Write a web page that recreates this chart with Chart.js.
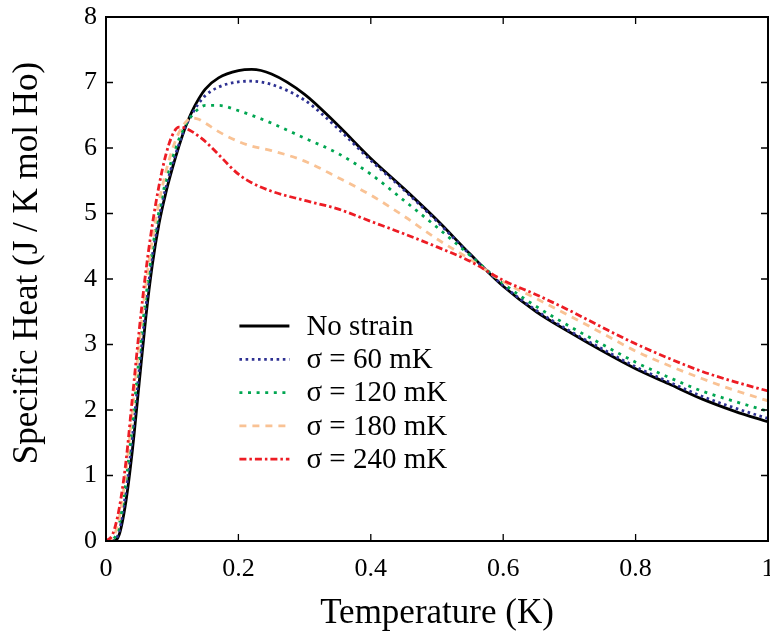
<!DOCTYPE html>
<html>
<head>
<meta charset="utf-8">
<script src="https://cdn.jsdelivr.net/npm/chart.js@4.4.1/dist/chart.umd.min.js"></script>
<style>
  html, body { margin: 0; padding: 0; background: #fff; overflow: hidden; }
  #wrap { width: 770px; height: 639px; }
</style>
</head>
<body>
<div id="wrap"><canvas id="heatChart"></canvas></div>
<script>
// temperature samples (K)
const temps = [0, 0.01, 0.02, 0.03, 0.04, 0.05, 0.06, 0.07, 0.08, 0.09, 0.1, 0.11, 0.12, 0.13, 0.14, 0.15, 0.17, 0.2, 0.22, 0.25, 0.3, 0.35, 0.4, 0.45, 0.5, 0.55, 0.6, 0.65, 0.7, 0.75, 0.8, 0.85, 0.9, 0.95, 1.0];

// specific heat (J / K mol Ho)
const noStrain = [0, 0, 0.1, 0.6, 1.4, 2.4, 3.4, 4.22, 4.84, 5.3, 5.68, 6.02, 6.32, 6.56, 6.75, 6.9, 7.07, 7.18, 7.2, 7.13, 6.82, 6.35, 5.84, 5.38, 4.9, 4.38, 3.89, 3.5, 3.19, 2.9, 2.63, 2.4, 2.17, 1.98, 1.82];
const sigma60 = [0, 0, 0.15, 0.75, 1.6, 2.6, 3.55, 4.35, 4.93, 5.38, 5.74, 6.05, 6.32, 6.52, 6.68, 6.8, 6.93, 7.01, 7.02, 6.97, 6.73, 6.3, 5.81, 5.36, 4.88, 4.37, 3.9, 3.52, 3.21, 2.93, 2.66, 2.43, 2.21, 2.03, 1.87];
const sigma120 = [0, 0.02, 0.25, 0.9, 1.8, 2.8, 3.7, 4.45, 5.03, 5.48, 5.84, 6.13, 6.35, 6.5, 6.6, 6.65, 6.65, 6.57, 6.5, 6.38, 6.15, 5.92, 5.6, 5.2, 4.79, 4.36, 3.93, 3.58, 3.28, 3.0, 2.73, 2.5, 2.29, 2.13, 1.98];
const sigma180 = [0, 0.05, 0.35, 1.05, 2.0, 3.0, 3.9, 4.6, 5.17, 5.62, 5.97, 6.23, 6.39, 6.46, 6.44, 6.38, 6.25, 6.1, 6.03, 5.96, 5.8, 5.55, 5.28, 4.96, 4.61, 4.3, 3.96, 3.7, 3.44, 3.17, 2.9, 2.68, 2.48, 2.3, 2.14];
const sigma240 = [0, 0.1, 0.5, 1.2, 2.2, 3.2, 4.1, 4.83, 5.42, 5.88, 6.19, 6.32, 6.3, 6.25, 6.18, 6.1, 5.9, 5.6, 5.47, 5.34, 5.2, 5.07, 4.88, 4.69, 4.49, 4.27, 3.98, 3.76, 3.52, 3.26, 3.01, 2.79, 2.59, 2.43, 2.29];

const seriesLabels = ['No strain', 'σ = 60 mK', 'σ = 120 mK', 'σ = 180 mK', 'σ = 240 mK'];
const xTicks = [0, 0.2, 0.4, 0.6, 0.8, 1];
const yTicks = [0, 1, 2, 3, 4, 5, 6, 7, 8];
const yTitle = 'Specific Heat (J / K mol Ho)';

const serif = "'Liberation Serif', 'Times New Roman', serif";

function pts(vals) {
  return temps.map((t, i) => ({ x: t, y: vals[i] }));
}

const styles = [
  { color: '#000000', dash: [], width: 2.8 },
  { color: '#2e3192', dash: [2.6, 3.6], width: 2.8 },
  { color: '#00a651', dash: [3, 5.6], width: 2.8 },
  { color: '#f9c294', dash: [7, 6], width: 2.8 },
  { color: '#ed1c24', dash: [7, 3, 2.5, 3], width: 2.8 }
];

const allSeries = [noStrain, sigma60, sigma120, sigma180, sigma240];

const datasets = allSeries.map((vals, i) => ({
  label: seriesLabels[i],
  data: pts(vals),
  borderColor: styles[i].color,
  borderWidth: styles[i].width,
  borderDash: styles[i].dash,
  borderCapStyle: 'butt',
  pointRadius: 0,
  fill: false,
  cubicInterpolationMode: 'monotone'
})).reverse();

// frame with inward ticks on all four sides, plus the y title
const framePlugin = {
  id: 'frame',
  afterDraw(chart) {
    const { ctx, chartArea: a, scales } = chart;
    ctx.save();
    ctx.strokeStyle = '#000';
    ctx.lineWidth = 2;
    ctx.strokeRect(a.left, a.top, a.right - a.left, a.bottom - a.top);
    ctx.lineWidth = 1.3;
    const len = 7;
    ctx.beginPath();
    xTicks.forEach(v => {
      const px = scales.x.getPixelForValue(v);
      ctx.moveTo(px, a.bottom); ctx.lineTo(px, a.bottom - len);
      ctx.moveTo(px, a.top); ctx.lineTo(px, a.top + len);
    });
    yTicks.forEach(v => {
      const py = scales.y.getPixelForValue(v);
      ctx.moveTo(a.left, py); ctx.lineTo(a.left + len, py);
      ctx.moveTo(a.right, py); ctx.lineTo(a.right - len, py);
    });
    ctx.stroke();

    // y axis title, centred on the figure height like the original
    ctx.translate(28, 263);
    ctx.rotate(-Math.PI / 2);
    ctx.font = '35px ' + serif;
    ctx.fillStyle = '#000';
    ctx.textAlign = 'center';
    ctx.textBaseline = 'middle';
    ctx.fillText(yTitle, 0, 0);
    ctx.restore();
  }
};

// legend drawn inside the plot, like the original figure
const legendPlugin = {
  id: 'innerLegend',
  afterDatasetsDraw(chart) {
    const { ctx, scales } = chart;
    const x0 = scales.x.getPixelForValue(0.2);
    ctx.save();
    ctx.font = '29px ' + serif;
    ctx.textBaseline = 'middle';
    ctx.fillStyle = '#000';
    seriesLabels.forEach((lab, i) => {
      const y = 326 + i * 33.3;
      ctx.beginPath();
      ctx.strokeStyle = styles[i].color;
      ctx.lineWidth = styles[i].width;
      ctx.setLineDash(styles[i].dash);
      ctx.moveTo(x0 + 1, y);
      ctx.lineTo(x0 + 51, y);
      ctx.stroke();
      ctx.setLineDash([]);
      ctx.fillText(lab, x0 + 68, y + 1);
    });
    ctx.restore();
  }
};

new Chart(document.getElementById('heatChart'), {
  type: 'line',
  data: { datasets: datasets },
  options: {
    responsive: true,
    maintainAspectRatio: false,
    animation: false,
    layout: { padding: { left: 0, right: 2, top: 17, bottom: 0 } },
    plugins: { legend: { display: false }, tooltip: { enabled: false } },
    scales: {
      x: {
        type: 'linear',
        min: 0,
        max: 1,
        grid: { display: false, drawTicks: false },
        border: { display: false },
        ticks: {
          stepSize: 0.2,
          padding: 13,
          color: '#000',
          font: { family: serif, size: 26 },
          maxRotation: 0,
          callback: v => String(Math.round(v * 10) / 10)
        },
        title: {
          display: true,
          text: 'Temperature (K)',
          color: '#000',
          font: { family: serif, size: 35 },
          padding: { top: 0, bottom: 4 }
        },
        afterFit(scale) {
          scale.height = 98;
          scale.paddingLeft = 0;
          scale.paddingRight = 0;
        }
      },
      y: {
        type: 'linear',
        min: 0,
        max: 8,
        grid: { display: false, drawTicks: false },
        border: { display: false },
        ticks: {
          stepSize: 1,
          padding: 9,
          color: '#000',
          font: { family: serif, size: 26 }
        },
        afterFit(scale) {
          scale.width = 106;
          scale.paddingTop = 0;
          scale.paddingBottom = 0;
        }
      }
    }
  },
  plugins: [framePlugin, legendPlugin]
});
</script>
</body>
</html>
